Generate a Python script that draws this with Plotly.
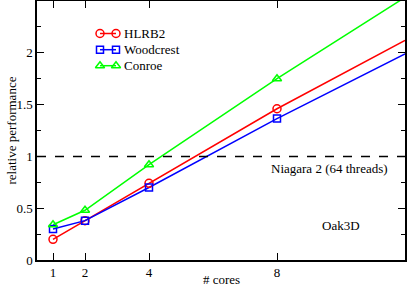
import plotly.graph_objects as go

# ---- data ----
cores = [1, 2, 4, 8]
hlrb2 = [0.20, 0.38, 0.74, 1.46]
woodcrest = [0.30, 0.38, 0.70, 1.365]
conroe = [0.34, 0.48, 0.92, 1.75]

# extrapolated line ends (no marker) at x = 12
ext_x = 12
hlrb2_ext = 2.12
woodcrest_ext = 1.99
conroe_ext = 2.535

niagara = 1.0
x_ticks = [1, 2, 4, 8]
series_names = ["HLRB2", "Woodcrest", "Conroe"]
colors = ["#ff0000", "#0000ff", "#00ff00"]
symbols = ["circle-open", "square-open", "triangle-up-open"]

FONT = "Liberation Serif, Times New Roman, serif"

fig = go.Figure()

series = [(hlrb2, hlrb2_ext), (woodcrest, woodcrest_ext), (conroe, conroe_ext)]
for (vals, ext), name, col, sym in zip(series, series_names, colors, symbols):
    fig.add_trace(go.Scatter(x=cores + [ext_x], y=vals + [ext], mode="lines",
                             line=dict(color=col, width=1.5), showlegend=False,
                             hoverinfo="skip"))
for (vals, ext), name, col, sym in zip(series, series_names, colors, symbols):
    fig.add_trace(go.Scatter(x=cores, y=vals, mode="markers", name=name,
                             marker=dict(symbol=sym, size=8 if sym != "square-open" else 7,
                                         color=col, line=dict(color=col, width=1.5)),
                             showlegend=False, cliponaxis=False))

# custom legend (xmgrace style: marker-line-marker), drawn in an overlay pixel frame
leg_x0, leg_x1 = 100, 116
leg_rows = [33.5, 49.7, 65.7]
for name, col, sym, yy in zip(series_names, colors, symbols, leg_rows):
    fig.add_trace(go.Scatter(x=[leg_x0, leg_x1], y=[yy, yy], mode="lines+markers",
                             xaxis="x2", yaxis="y2",
                             line=dict(color=col, width=1.5),
                             marker=dict(symbol=sym, size=8 if sym != "square-open" else 7,
                                         color=col, line=dict(color=col, width=1.5)),
                             showlegend=False, hoverinfo="skip"))
    fig.add_annotation(x=leg_x1 + 6, y=yy, xref="x2", yref="y2", text=name,
                       showarrow=False, xanchor="left", yanchor="middle",
                       font=dict(family=FONT, size=13, color="black"))

fig.add_shape(type="line", xref="paper", x0=0, x1=1, yref="y", y0=niagara, y1=niagara,
              line=dict(color="black", width=1.5, dash="dash"))

fig.add_annotation(x=9.63, y=0.885, text="Niagara 2 (64 threads)", showarrow=False,
                   font=dict(family=FONT, size=13, color="black"))
fig.add_annotation(x=10.0, y=0.33, text="Oak3D", showarrow=False,
                   font=dict(family=FONT, size=13, color="black"))

# axis titles as annotations for exact placement
fig.add_annotation(x=0.5, y=-0.077, xref="paper", yref="paper", text="# cores",
                   showarrow=False, xanchor="center", yanchor="middle",
                   font=dict(family=FONT, size=13, color="black"))
fig.add_annotation(x=-0.068, y=0.5, xref="paper", yref="paper", text="relative performance",
                   showarrow=False, textangle=-90, xanchor="center", yanchor="middle",
                   font=dict(family=FONT, size=13, color="black"))

axis_common = dict(showline=True, linecolor="black", linewidth=1.5, mirror="ticks",
                   ticks="inside", tickcolor="black", tickwidth=1, ticklen=7,
                   showgrid=False, zeroline=False, automargin=False,
                   tickfont=dict(family=FONT, size=13, color="black"))

fig.update_layout(
    width=407, height=287,
    margin=dict(l=37, r=2, t=1, b=27),
    paper_bgcolor="white", plot_bgcolor="white",
    font=dict(family=FONT, size=13, color="black"),
    xaxis=dict(range=[0.5, 12], tickvals=x_ticks, ticktext=[str(v) for v in x_ticks],
               **axis_common),
    yaxis=dict(range=[0, 2.5], dtick=0.5, tick0=0,
               minor=dict(dtick=0.25, ticks="inside", ticklen=4, tickcolor="black", tickwidth=1),
               **axis_common),
    xaxis2=dict(overlaying="x", range=[37, 405], visible=False, fixedrange=True),
    yaxis2=dict(overlaying="y", range=[260, 1], visible=False, fixedrange=True),
)

fig.write_html("out.html", config={"displayModeBar": False},
               post_script="document.body.style.margin='0px';")
